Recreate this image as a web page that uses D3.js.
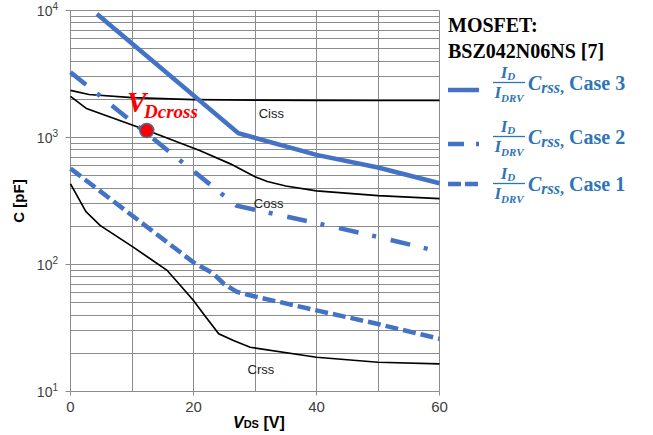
<!DOCTYPE html>
<html>
<head>
<meta charset="utf-8">
<script src="https://cdn.jsdelivr.net/npm/d3@7"></script>
<style>
    body { margin: 0; background: #ffffff; }
    svg { display: block; font-family: Arial, "Liberation Sans", sans-serif; }
</style>
</head>
<body>
<svg id="chart"></svg>
<script>
// data (V in volts, C in pF)
var vdsCiss = [0, 3, 10, 20, 30, 40, 50, 60];
var ciss    = [2350, 2180, 2060, 1990, 1970, 1960, 1955, 1955];

var vdsCoss = [0, 2.6, 12.4, 21, 26, 30, 32, 35, 40, 50, 60];
var coss    = [2110, 1690, 1140, 790, 620, 490, 450, 415, 380, 348, 330];

var vdsCrss = [0, 2.5, 4.8, 10.2, 15.7, 17.8, 20, 21.6, 24.1, 26.5, 29.2, 40, 50, 60];
var crss    = [431, 261, 203, 137, 90, 69, 52, 41, 28.5, 25.2, 22.3, 18.6, 17, 16.5];

var vdsCase3 = [4.3, 27.3, 40, 50, 60];
var case3    = [9400, 1080, 730, 580, 436];

var vdsCase2 = [0, 27, 40, 50, 60];
var case2    = [3270, 290, 212, 165, 126];

var vdsCase1 = [0, 20, 23.2, 25, 27, 30, 40, 50, 60];
var case1    = [570, 104, 85, 70, 61, 56, 43.5, 34, 26];

var crossPoint = {v: 12.4, c: 1135};

var xTicks = [0, 20, 40, 60];
var xGrid = [0, 10, 20, 30, 40, 50, 60];
var yDecades = [10, 100, 1000, 10000];
var yExponents = ["1", "2", "3", "4"];

var curveNames = [
    {name: "Ciss", v: 30.6, c: 1436},
    {name: "Coss", v: 29.8, c: 278},
    {name: "Crss", v: 28.8, c: 13.7}
];
var legendCases = ["Case 3", "Case 2", "Case 1"];

window.onload = function () {

    var width = 653;
    var height = 435;
    var svg = d3.select("#chart")
        .attr("width", width)
        .attr("height", height);

    svg.append("rect")
        .attr("width", width)
        .attr("height", height)
        .attr("fill", "#ffffff");

    var blueLine = "#4472C4";
    var blueText = "#2E75B6";
    var gridColor = "#8c8c8c";

    // scales
    var xScale = d3.scaleLinear()
        .domain([0, 60])
        .range([70.5, 439.5]);

    var yScale = d3.scaleLog()
        .domain([10, 10000])
        .range([391.5, 10.5]);

    var snap = function (p) { return Math.round(p - 0.5) + 0.5; };

    // grid
    var grid = svg.append("g").attr("class", "grid");

    grid.selectAll("line.h")
        .data(yScale.ticks())
        .enter()
        .append("line")
        .attr("class", "h")
        .attr("x1", xScale(0))
        .attr("x2", xScale(60))
        .attr("y1", function (d) { return snap(yScale(d)); })
        .attr("y2", function (d) { return snap(yScale(d)); })
        .attr("stroke", gridColor)
        .attr("stroke-width", 1);

    grid.selectAll("line.v")
        .data(xGrid)
        .enter()
        .append("line")
        .attr("class", "v")
        .attr("x1", function (d) { return snap(xScale(d)); })
        .attr("x2", function (d) { return snap(xScale(d)); })
        .attr("y1", yScale(10000))
        .attr("y2", yScale(10))
        .attr("stroke", gridColor)
        .attr("stroke-width", 1);

    // ticks
    svg.selectAll("line.ytick")
        .data(yDecades)
        .enter()
        .append("line")
        .attr("x1", xScale(0) - 5)
        .attr("x2", xScale(0))
        .attr("y1", function (d) { return snap(yScale(d)); })
        .attr("y2", function (d) { return snap(yScale(d)); })
        .attr("stroke", gridColor);

    svg.selectAll("line.xtick")
        .data(xTicks)
        .enter()
        .append("line")
        .attr("x1", function (d) { return snap(xScale(d)); })
        .attr("x2", function (d) { return snap(xScale(d)); })
        .attr("y1", yScale(10))
        .attr("y2", yScale(10) + 4)
        .attr("stroke", gridColor);

    // tick labels
    var yLabels = svg.selectAll("text.ylabel")
        .data(yDecades)
        .enter()
        .append("text")
        .attr("class", "ylabel")
        .attr("x", 58)
        .attr("y", function (d) { return yScale(d) + 5; })
        .attr("text-anchor", "end")
        .attr("fill", "#404040")
        .style("font-size", "14px");

    yLabels.append("tspan").text("10");
    yLabels.append("tspan")
        .attr("dy", -6)
        .style("font-size", "10px")
        .text(function (d, i) { return yExponents[i]; });

    svg.selectAll("text.xlabel")
        .data(xTicks)
        .enter()
        .append("text")
        .attr("x", function (d) { return xScale(d); })
        .attr("y", 412)
        .attr("text-anchor", "middle")
        .attr("fill", "#404040")
        .style("font-size", "15px")
        .text(function (d) { return d; });

    // axis titles
    svg.append("text")
        .attr("transform", "translate(24,201) rotate(-90)")
        .attr("text-anchor", "middle")
        .style("font-size", "15px")
        .style("font-weight", "bold")
        .text("C [pF]");

    var xTitle = svg.append("text")
        .attr("x", 233)
        .attr("y", 428)
        .style("font-size", "16px")
        .style("font-weight", "bold");
    xTitle.append("tspan").style("font-style", "italic").text("V");
    xTitle.append("tspan").style("font-size", "11px").text("DS");
    xTitle.append("tspan").text(" [V]");

    // line generator
    var line = d3.line()
        .x(function (d) { return xScale(d[0]); })
        .y(function (d) { return yScale(d[1]); });

    var zipData = function (xs, ys) {
        return xs.map(function (v, i) { return [v, ys[i]]; });
    };

    // device curves
    [[vdsCiss, ciss], [vdsCoss, coss], [vdsCrss, crss]].forEach(function (s) {
        svg.append("path")
            .datum(zipData(s[0], s[1]))
            .attr("d", line)
            .attr("fill", "none")
            .attr("stroke", "#000000")
            .attr("stroke-width", 1.7);
    });

    svg.selectAll("text.curvename")
        .data(curveNames)
        .enter()
        .append("text")
        .attr("x", function (d) { return xScale(d.v); })
        .attr("y", function (d) { return yScale(d.c); })
        .style("font-size", "13px")
        .attr("fill", "#222222")
        .text(function (d) { return d.name; });

    // scaled Crss cases
    var cases = [
        {data: zipData(vdsCase3, case3), dash: null},
        {data: zipData(vdsCase2, case2), dash: "20,14,4,15"},
        {data: zipData(vdsCase1, case1), dash: "13,5"}
    ];

    cases.forEach(function (c) {
        svg.append("path")
            .datum(c.data)
            .attr("d", line)
            .attr("fill", "none")
            .attr("stroke", blueLine)
            .attr("stroke-width", 4.5)
            .attr("stroke-dasharray", c.dash);
    });

    // crossing point
    svg.append("circle")
        .attr("cx", xScale(crossPoint.v))
        .attr("cy", yScale(crossPoint.c))
        .attr("r", 7)
        .attr("fill", "#ff0000")
        .attr("stroke", "#41719C")
        .attr("stroke-width", 1.5);

    svg.append("text")
        .attr("x", 127)
        .attr("y", 112)
        .attr("fill", "#ff0000")
        .style("font-family", "'Liberation Serif', 'Times New Roman', serif")
        .style("font-style", "italic")
        .style("font-weight", "bold")
        .style("font-size", "29px")
        .text("V");

    svg.append("text")
        .attr("x", 144)
        .attr("y", 118)
        .attr("fill", "#ff0000")
        .style("font-family", "'Liberation Serif', 'Times New Roman', serif")
        .style("font-style", "italic")
        .style("font-weight", "bold")
        .style("font-size", "19px")
        .text("Dcross");

    // legend
    var serif = "'Liberation Serif', 'Times New Roman', serif";

    svg.append("text")
        .attr("x", 448)
        .attr("y", 32)
        .style("font-family", serif)
        .style("font-weight", "bold")
        .style("font-size", "20px")
        .text("MOSFET:");

    svg.append("text")
        .attr("x", 448)
        .attr("y", 58)
        .style("font-family", serif)
        .style("font-weight", "bold")
        .style("font-size", "20px")
        .text("BSZ042N06NS [7]");

    var legendBase = [90, 144, 191];
    var legendLineY = [90, 144, 184];

    legendCases.forEach(function (label, i) {
        var yb = legendBase[i];
        var g = svg.append("g").attr("class", "legend");

        g.append("line")
            .attr("x1", 448)
            .attr("x2", 479)
            .attr("y1", legendLineY[i])
            .attr("y2", legendLineY[i])
            .attr("stroke", blueLine)
            .attr("stroke-width", 4.5)
            .attr("stroke-dasharray", cases[i].dash ? (i === 1 ? "16,12,4,20" : "13,4") : null);

        // fraction I_D / I_DRV
        g.append("line")
            .attr("x1", 493)
            .attr("x2", 525)
            .attr("y1", yb - 7.5)
            .attr("y2", yb - 7.5)
            .attr("stroke", blueText)
            .attr("stroke-width", 1.3);

        var num = g.append("text")
            .attr("x", 508)
            .attr("y", yb - 12)
            .attr("text-anchor", "middle")
            .attr("fill", blueText)
            .style("font-family", serif)
            .style("font-style", "italic")
            .style("font-weight", "bold")
            .style("font-size", "17px");
        num.append("tspan").text("I");
        num.append("tspan").attr("dy", 2).style("font-size", "11px").text("D");

        var den = g.append("text")
            .attr("x", 509)
            .attr("y", yb + 8)
            .attr("text-anchor", "middle")
            .attr("fill", blueText)
            .style("font-family", serif)
            .style("font-style", "italic")
            .style("font-weight", "bold")
            .style("font-size", "17px");
        den.append("tspan").text("I");
        den.append("tspan").attr("dy", 4).style("font-size", "11px").text("DRV");

        var main = g.append("text")
            .attr("x", 528)
            .attr("y", yb)
            .attr("fill", blueText)
            .style("font-family", serif)
            .style("font-weight", "bold");
        main.append("tspan")
            .style("font-style", "italic")
            .style("font-size", "20px")
            .text("C");
        main.append("tspan")
            .attr("dy", 3)
            .style("font-style", "italic")
            .style("font-size", "16px")
            .text("rss");
        main.append("tspan")
            .style("font-size", "16px")
            .text(",");
        main.append("tspan")
            .attr("dy", -3)
            .style("font-size", "20px")
            .text(" " + label);
    });
};
</script>
</body>
</html>
